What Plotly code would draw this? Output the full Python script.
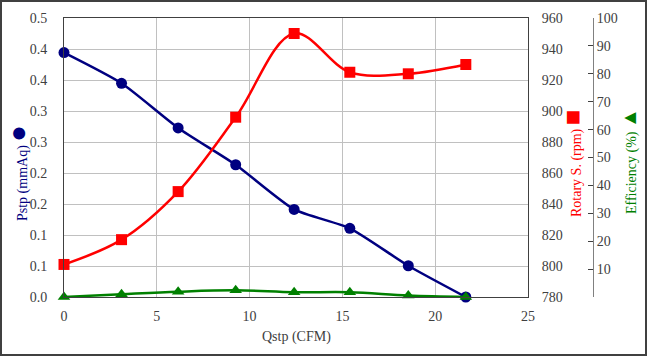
import plotly.graph_objects as go

# ---- data ----
qstp = [0.0, 3.1, 6.15, 9.25, 12.4, 15.4, 18.55, 21.65]
pstp = [0.438, 0.383, 0.303, 0.237, 0.157, 0.123, 0.056, 0.0]
rpm = [801, 817, 848, 896, 950, 925, 924, 930]
eff = [0.0, 1.0, 1.9, 2.4, 1.7, 1.7, 0.5, 0.0]

pstp_ticktext = ["0.0", "0.1", "0.1", "0.2", "0.2", "0.3", "0.3", "0.4", "0.4", "0.5"]
eff_ticktext = ["", "10", "20", "30", "40", "50", "60", "70", "80", "90", "100"]

FONT = "Liberation Serif, Times New Roman, serif"
TXT = "#404040"
GRID = "#c0c0c0"
NAVY = "#000080"
RED = "#ff0000"
GREEN = "#008000"

W, H = 647, 356
L, R, T, B = 64, 54, 18, 59
PW = W - L - R
PH = H - T - B
x_dom_end = (528 - L) / PW


def px(xp):
    return (xp - L) / PW


def py(yp):
    return (H - B - yp) / PH


pstp_tickvals = [i * 0.5 / (len(pstp_ticktext) - 1) for i in range(len(pstp_ticktext))]
eff_tickvals = [i * 10 for i in range(len(eff_ticktext))]

fig = go.Figure()
fig.add_trace(go.Scatter(
    x=qstp, y=pstp, mode="lines+markers", yaxis="y", cliponaxis=False,
    line=dict(color=NAVY, width=2.5, shape="spline", smoothing=0.6),
    marker=dict(symbol="circle", size=11, color=NAVY), name="Pstp"))
fig.add_trace(go.Scatter(
    x=qstp, y=rpm, mode="lines+markers", yaxis="y2", cliponaxis=False,
    line=dict(color=RED, width=2.5, shape="spline", smoothing=1.0),
    marker=dict(symbol="square", size=11, color=RED), name="Rotary S."))
fig.add_trace(go.Scatter(
    x=qstp, y=eff, mode="lines+markers", yaxis="y3", cliponaxis=False,
    line=dict(color=GREEN, width=2.5, shape="spline", smoothing=1.0),
    marker=dict(symbol="triangle-up", size=11, color=GREEN), name="Efficiency"))

tickfont = dict(family=FONT, size=14, color=TXT)

fig.update_layout(
    width=W, height=H,
    margin=dict(l=L, r=R, t=T, b=B, autoexpand=False),
    paper_bgcolor="white", plot_bgcolor="white",
    showlegend=False,
    font=dict(family=FONT, size=14, color=TXT),
    xaxis=dict(
        domain=[0, x_dom_end], range=[0, 25], dtick=5, tick0=0,
        showgrid=True, gridcolor=GRID, gridwidth=1, zeroline=False,
        showline=True, mirror=True, linecolor=TXT, linewidth=1,
        ticks="outside", ticklen=6, tickcolor="rgba(0,0,0,0)",
        tickfont=tickfont),
    yaxis=dict(
        range=[0, 0.5], tickvals=pstp_tickvals, ticktext=pstp_ticktext,
        showgrid=True, gridcolor=GRID, gridwidth=1, zeroline=False,
        showline=True, mirror=True, linecolor=TXT, linewidth=1,
        ticks="outside", ticklen=13, tickcolor="rgba(0,0,0,0)",
        tickfont=tickfont),
    yaxis2=dict(
        overlaying="y", side="right", anchor="x",
        range=[780, 960], dtick=20, tick0=780,
        showgrid=False, zeroline=False, showline=False,
        ticks="outside", ticklen=10, tickcolor="rgba(0,0,0,0)",
        tickfont=tickfont),
    yaxis3=dict(
        overlaying="y", side="right", anchor="free", position=1.0,
        range=[0, 100], tickvals=eff_tickvals, ticktext=eff_ticktext,
        showgrid=False, zeroline=False,
        showline=True, linecolor="#808080", linewidth=1,
        ticks="inside", ticklen=5, tickcolor="#404040",
        tickfont=tickfont),
)

annos = [
    dict(text="Pstp (mmAq) <span style='font-size:28px'>●</span>", x=px(17), y=py(173),
         font=dict(family=FONT, size=14, color=NAVY)),
    dict(text="Rotary S. (rpm) <span style='font-size:26px'>■</span>", x=px(572), y=py(164),
         font=dict(family=FONT, size=14, color=RED)),
    dict(text="Efficiency (%) <span style='font-size:20px'>▲</span>", x=px(629), y=py(161),
         font=dict(family=FONT, size=14, color=GREEN)),
]
for a in annos:
    fig.add_annotation(xref="paper", yref="paper", textangle=-90, showarrow=False,
                       xanchor="center", yanchor="middle", **a)
fig.add_annotation(text="Qstp (CFM)", xref="paper", yref="paper", x=px(296), y=py(337),
                   showarrow=False, xanchor="center", yanchor="middle",
                   font=dict(family=FONT, size=14, color=TXT))

# outer chart border
fig.add_shape(type="rect", xref="paper", yref="paper",
              x0=px(1), x1=px(646), y0=py(355), y1=py(1),
              line=dict(color="#404040", width=2), fillcolor="rgba(0,0,0,0)", layer="below")

fig.write_html("out.html", config={"displayModeBar": False},
               post_script="document.body.style.margin='0';document.body.style.padding='0';")
